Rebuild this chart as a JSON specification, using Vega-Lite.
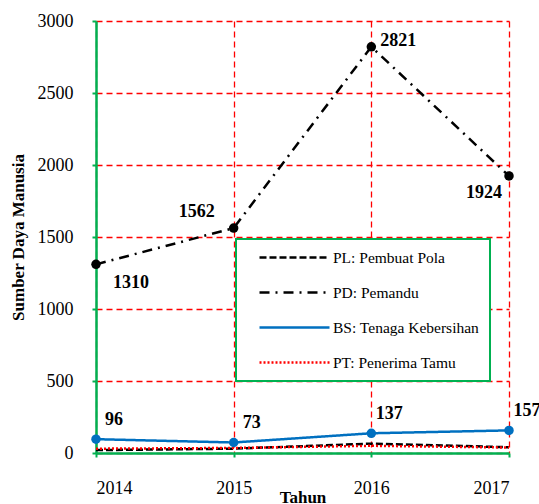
{
  "$schema": "https://vega.github.io/schema/vega-lite/v6.json",
  "width": 413,
  "height": 432,
  "autosize": {"type": "none"},
  "padding": {"left": 96, "top": 21, "right": 30, "bottom": 51},
  "background": "white",
  "config": {
    "view": {"stroke": null},
    "font": "Liberation Serif",
    "text": {"font": "Liberation Serif"},
    "axis": {
      "domainColor": "#00B050",
      "domainWidth": 2.5,
      "tickColor": "#00B050",
      "tickWidth": 2,
      "tickSize": 4,
      "gridColor": "#FF0000",
      "gridDash": [6, 4],
      "gridWidth": 1.3,
      "gridOpacity": 1,
      "labelFont": "Liberation Serif",
      "labelFontSize": 18,
      "labelColor": "black",
      "titleFont": "Liberation Serif",
      "titleFontSize": 17,
      "titleFontWeight": "bold",
      "titleColor": "black"
    },
    "legend": {"labelFont": "Liberation Serif"}
  },
  "data": {
    "values": [
      {"s": "PL: Pembuat Pola", "t": 2014, "v": 20},
      {"s": "PL: Pembuat Pola", "t": 2015, "v": 30},
      {"s": "PL: Pembuat Pola", "t": 2016, "v": 65},
      {"s": "PL: Pembuat Pola", "t": 2017, "v": 40},
      {"s": "PD: Pemandu", "t": 2014, "v": 1310},
      {"s": "PD: Pemandu", "t": 2015, "v": 1562},
      {"s": "PD: Pemandu", "t": 2016, "v": 2821},
      {"s": "PD: Pemandu", "t": 2017, "v": 1924},
      {"s": "BS: Tenaga Kebersihan", "t": 2014, "v": 96},
      {"s": "BS: Tenaga Kebersihan", "t": 2015, "v": 73},
      {"s": "BS: Tenaga Kebersihan", "t": 2016, "v": 137},
      {"s": "BS: Tenaga Kebersihan", "t": 2017, "v": 157},
      {"s": "PT: Penerima Tamu", "t": 2014, "v": 30},
      {"s": "PT: Penerima Tamu", "t": 2015, "v": 35},
      {"s": "PT: Penerima Tamu", "t": 2016, "v": 50},
      {"s": "PT: Penerima Tamu", "t": 2017, "v": 38}
    ]
  },
  "encoding": {
    "x": {
      "field": "t", "type": "quantitative",
      "scale": {"domain": [2014, 2017], "nice": false, "zero": false},
      "axis": {"values": [2014, 2015, 2016, 2017], "format": "d", "title": "Tahun", "labelPadding": 22, "titlePadding": -8, "labelFont": "Liberation Serif"}
    },
    "y": {
      "field": "v", "type": "quantitative",
      "scale": {"domain": [0, 3000], "nice": false},
      "axis": {"values": [0, 500, 1000, 1500, 2000, 2500, 3000], "format": "d", "title": "Sumber Daya Manusia", "labelPadding": 19, "titlePadding": 10, "labelFont": "Liberation Serif"}
    }
  },
  "layer": [
    {
      "mark": {"type": "line", "strokeWidth": 2.5},
      "encoding": {
        "color": {
          "field": "s", "type": "nominal", "title": null,
          "scale": {
            "domain": ["PL: Pembuat Pola", "PD: Pemandu", "BS: Tenaga Kebersihan", "PT: Penerima Tamu"],
            "range": ["black", "black", "#0070C0", "#FF0000"]
          },
          "legend": {
            "orient": "none", "legendX": 140, "legendY": 218,
            "fillColor": "white", "strokeColor": "#00B050",
            "padding": 10, "symbolType": "M-5,0H5", "symbolSize": 196,
            "symbolOffset": 40,
            "symbolStrokeWidth": 2.5, "labelFontSize": 15.5, "labelFont": "Liberation Serif",
            "labelOffset": 30, "rowPadding": 18, "labelColor": "black",
            "labelExpr": "datum.label + '\u00a0\u00a0\u00a0\u00a0\u00a0'",
            "encode": {"legend": {"update": {"strokeWidth": {"value": 2}}}}
          }
        },
        "strokeDash": {
          "field": "s", "type": "nominal", "title": null,
          "scale": {
            "domain": ["PL: Pembuat Pola", "PD: Pemandu", "BS: Tenaga Kebersihan", "PT: Penerima Tamu"],
            "range": [[7, 3], [10, 6, 2, 6], [1, 0], [2, 2]]
          }
        }
      }
    },
    {
      "transform": [{"filter": "datum.s == 'PD: Pemandu' || datum.s == 'BS: Tenaga Kebersihan'"}],
      "mark": {"type": "circle", "size": 90, "opacity": 1},
      "encoding": {
        "fill": {
          "field": "s", "type": "nominal",
          "scale": {"domain": ["PD: Pemandu", "BS: Tenaga Kebersihan"], "range": ["black", "#0070C0"]},
          "legend": null
        }
      }
    },
    {
      "transform": [{"filter": "datum.s == 'BS: Tenaga Kebersihan'"}],
      "mark": {"type": "text", "fontWeight": "bold", "fontSize": 18, "dx": 18, "dy": -19, "font": "Liberation Serif"},
      "encoding": {"text": {"field": "v"}}
    },
    {
      "transform": [{"filter": "datum.s == 'PD: Pemandu' && datum.t == 2014"}],
      "mark": {"type": "text", "fontWeight": "bold", "fontSize": 18, "dx": 35, "dy": 19, "font": "Liberation Serif"},
      "encoding": {"text": {"field": "v"}}
    },
    {
      "transform": [{"filter": "datum.s == 'PD: Pemandu' && datum.t == 2015"}],
      "mark": {"type": "text", "fontWeight": "bold", "fontSize": 18, "dx": -37, "dy": -16, "font": "Liberation Serif"},
      "encoding": {"text": {"field": "v"}}
    },
    {
      "transform": [{"filter": "datum.s == 'PD: Pemandu' && datum.t == 2016"}],
      "mark": {"type": "text", "fontWeight": "bold", "fontSize": 18, "dx": 27, "dy": -6, "font": "Liberation Serif"},
      "encoding": {"text": {"field": "v"}}
    },
    {
      "transform": [{"filter": "datum.s == 'PD: Pemandu' && datum.t == 2017"}],
      "mark": {"type": "text", "fontWeight": "bold", "fontSize": 18, "dx": -25, "dy": 17, "font": "Liberation Serif"},
      "encoding": {"text": {"field": "v"}}
    }
  ]
}
